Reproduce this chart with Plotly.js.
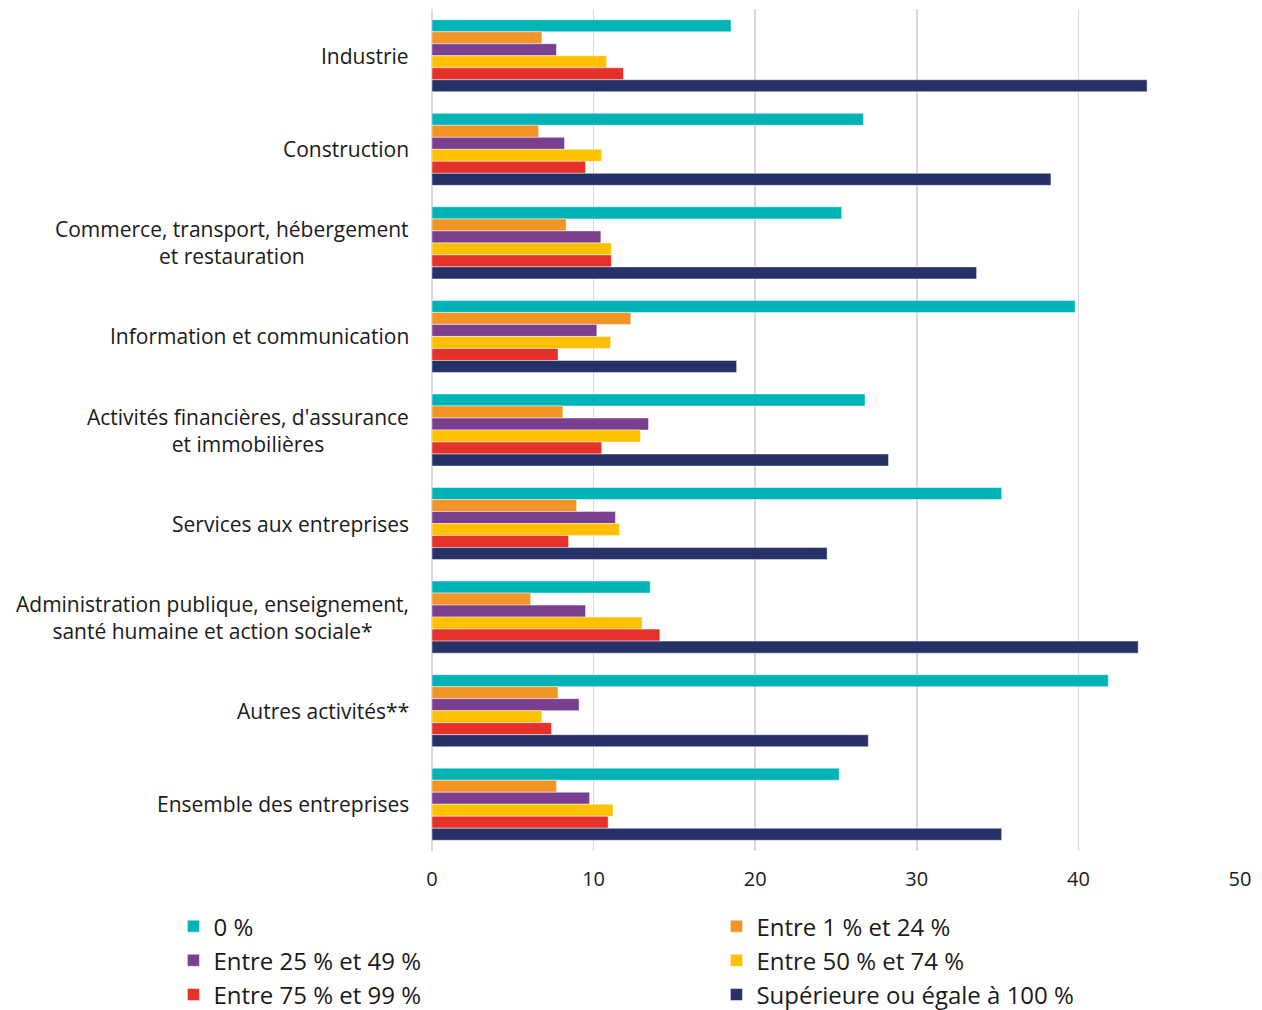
<!DOCTYPE html>
<html>
<head>
<meta charset="utf-8">
<script src="https://cdn.plot.ly/plotly-3.0.1.min.js"></script>
<style>html,body{margin:0;padding:0;background:#fff;}#chart{width:1262px;height:1010px;}</style>
</head>
<body>
<div id="chart"></div>
<script>
const categories = [
  "Industrie",
  "Construction",
  "Commerce, transport, hébergement<br>et restauration",
  "Information et communication",
  "Activités financières, d'assurance<br>et immobilières",
  "Services aux entreprises",
  "Administration publique, enseignement,<br>santé humaine et action sociale*",
  "Autres activités**",
  "Ensemble des entreprises"
];
const seriesNames = [
  "0 %",
  "Entre 1 % et 24 %",
  "Entre 25 % et 49 %",
  "Entre 50 % et 74 %",
  "Entre 75 % et 99 %",
  "Supérieure ou égale à 100 %"
];
const s0 = [18.5, 26.7, 25.35, 39.8, 26.8, 35.25, 13.5, 41.85, 25.2];
const s1 = [6.8, 6.6, 8.3, 12.3, 8.1, 8.95, 6.1, 7.8, 7.7];
const s25 = [7.7, 8.2, 10.45, 10.2, 13.4, 11.35, 9.5, 9.1, 9.75];
const s50 = [10.8, 10.5, 11.1, 11.05, 12.9, 11.6, 13.0, 6.8, 11.2];
const s75 = [11.85, 9.5, 11.1, 7.8, 10.5, 8.45, 14.1, 7.4, 10.9];
const s100 = [44.25, 38.3, 33.7, 18.85, 28.25, 24.45, 43.7, 27.0, 35.25];
const xTicks = [0, 10, 20, 30, 40, 50];
const colors = ["#00B3B7", "#F39426", "#7B3F90", "#FFC000", "#E4322B", "#263167"];

const allSeries = [s0, s1, s25, s50, s75, s100];
const traces = allSeries.map((vals, i) => ({
  type: "bar",
  orientation: "h",
  name: seriesNames[i],
  x: vals,
  y: categories,
  marker: { color: colors[i], line: { color: "rgba(255,255,255,0.45)", width: 1 } },
  hoverinfo: "x+name"
}));

const annotations = categories.map(c => ({
  xref: "paper", yref: "y", x: 0, y: c,
  xanchor: "right", yanchor: "middle", xshift: -21,
  text: c, showarrow: false, align: "center",
  font: { family: "Open Sans", size: 21, color: "#1a1a1a" }
}));

const layout = {
  width: 1262, height: 1010,
  margin: { l: 432, r: 22, t: 9, b: 159, autoexpand: false },
  paper_bgcolor: "#fff", plot_bgcolor: "#fff",
  font: { family: "Open Sans", size: 20, color: "#1a1a1a" },
  barmode: "group",
  bargap: 0.23,
  bargroupgap: 0,
  showlegend: true,
  xaxis: {
    range: [0, 50],
    tickvals: xTicks,
    ticktext: xTicks.map(String),
    showgrid: true, gridcolor: "#d9d9d9", gridwidth: 1.5,
    zeroline: true, zerolinecolor: "#d9d9d9", zerolinewidth: 1.5,
    showline: false, ticks: "",
    ticklabelstandoff: 14,
    tickfont: { family: "Open Sans", size: 20, color: "#1a1a1a" },
    fixedrange: true
  },
  yaxis: {
    type: "category",
    autorange: "reversed",
    showticklabels: false,
    showgrid: false, zeroline: false, showline: false, ticks: "",
    fixedrange: true
  },
  legend: {
    orientation: "h",
    x: -0.32, xanchor: "left",
    y: -0.063, yanchor: "top",
    entrywidth: 498, entrywidthmode: "pixels",
    traceorder: "normal",
    font: { family: "Open Sans", size: 24, color: "#1a1a1a" },
    bgcolor: "rgba(0,0,0,0)"
  },
  annotations: annotations
};

Plotly.newPlot("chart", traces, layout, { displayModeBar: false, staticPlot: true });
</script>
</body>
</html>
